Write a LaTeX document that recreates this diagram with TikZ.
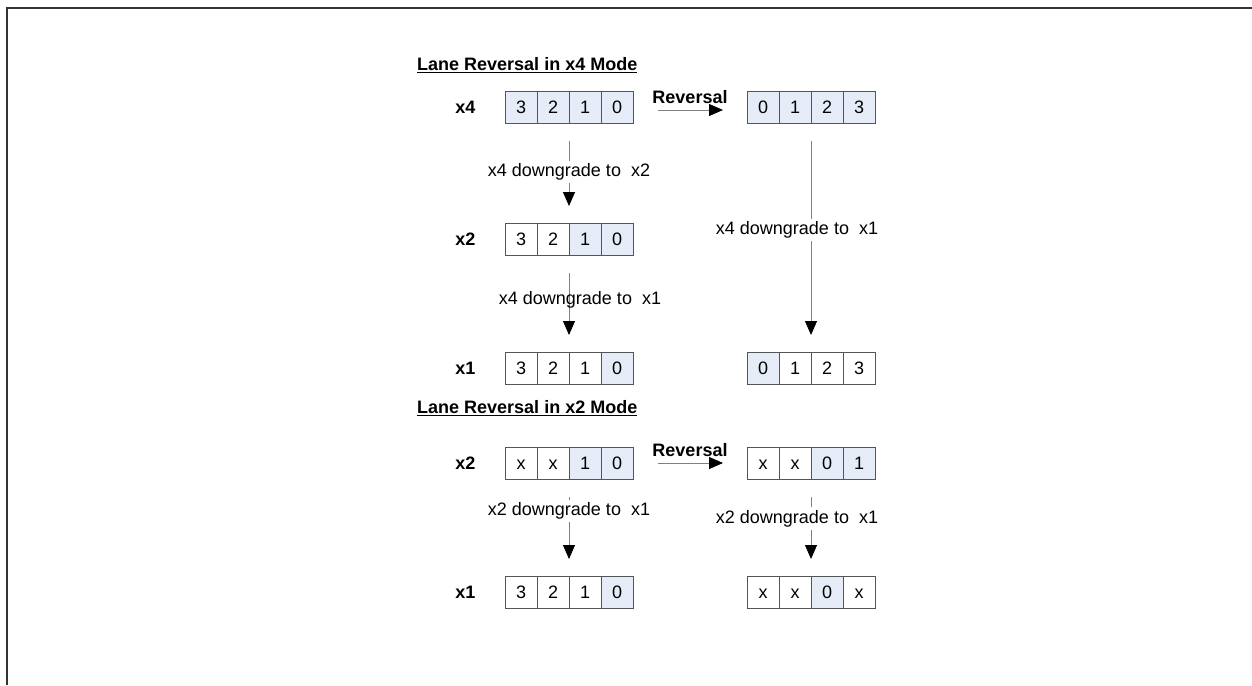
\documentclass[tikz,border=0pt]{standalone}
\usepackage{fontspec}
\setmainfont{Liberation Sans}
\usetikzlibrary{arrows.meta, positioning}

\definecolor{lanefill}{RGB}{230,236,247}
\definecolor{laneedge}{RGB}{85,85,85}

% one row of four lanes, #2/#3 = centre of the first cell
\newcommand{\lanerow}[4]{%
  \foreach \v/\c [count=\i] in {#4}
    \node[cell, fill=\c] (#1-\i) at ({#2+(\i-1)*32}, #3) {\v};
}

\begin{document}
\begin{tikzpicture}[x=1pt, y=-1pt, node distance=26pt,
  cell/.style={draw=laneedge, line width=0.8pt, minimum width=32pt,
               minimum height=32pt, inner sep=0pt, outer sep=0pt,
               text height=13pt, text depth=0pt,
               font=\fontsize{18}{20}\selectfont},
  widthlbl/.style={font=\bfseries\fontsize{18}{20}\selectfont},
  lanetitle/.style={anchor=west, inner sep=0pt,
                    font=\bfseries\fontsize{18}{20}\selectfont},
  downarrow/.style={draw=gray, line width=0.8pt,
                    -{Triangle[length=14pt, width=12pt, color=black]},
                    shorten <=18pt, shorten >=17pt},
  revarrow/.style={draw=gray, line width=0.8pt,
                   -{Triangle[length=14pt, width=12pt, color=black]},
                   shorten <=25pt, shorten >=24pt},
  downnote/.style={fill=white, inner sep=3pt,
                   font=\fontsize{18}{20}\selectfont},
  revnote/.style={above=3pt, font=\bfseries\fontsize{18}{20}\selectfont}]

  \useasboundingbox (0,0) rectangle (1252,685);
  \draw[line width=1.5pt, black!80] (7,685) -- (7,8) -- (1252,8);

  % x4 mode
  \node[lanetitle] (t4) at (417,65) {\underline{Lane Reversal in x4 Mode}};

  \lanerow{x4l}{521}{107}{3/lanefill, 2/lanefill, 1/lanefill, 0/lanefill}
  \lanerow{x4r}{763}{107}{0/lanefill, 1/lanefill, 2/lanefill, 3/lanefill}
  \lanerow{x2l}{521}{239}{3/white, 2/white, 1/lanefill, 0/lanefill}
  \lanerow{x1l}{521}{368}{3/white, 2/white, 1/white, 0/lanefill}
  \lanerow{x1r}{763}{368}{0/lanefill, 1/white, 2/white, 3/white}

  \node[widthlbl, left=of x4l-1] (w4) {x4};
  \node[widthlbl, left=of x2l-1] (w2) {x2};
  \node[widthlbl, left=of x1l-1] (w1) {x1};

  \draw[revarrow] ([yshift=-3pt]x4l-4.east) -- ([yshift=-3pt]x4r-1.west)
    node[midway, revnote] {Reversal};
  \draw[downarrow] (x4l-2.south east) -- (x2l-2.north east)
    node[downnote, pos=0.49] {x4 downgrade to\ \ x2};
  \draw[downarrow] (x2l-2.south east) -- (x1l-2.north east)
    node[downnote, fill=none, pos=0.46, xshift=11pt] {x4 downgrade to\ \ x1};
  \draw[downarrow] (x4r-2.south east) -- (x1r-2.north east)
    node[downnote, pos=0.467, xshift=-14pt] {x4 downgrade to\ \ x1};

  % x2 mode
  \node[lanetitle] (t2) at (417,408) {\underline{Lane Reversal in x2 Mode}};

  \lanerow{bx2l}{521}{463}{x/white, x/white, 1/lanefill, 0/lanefill}
  \lanerow{bx2r}{763}{463}{x/white, x/white, 0/lanefill, 1/lanefill}
  \lanerow{bx1l}{521}{592}{3/white, 2/white, 1/white, 0/lanefill}
  \lanerow{bx1r}{763}{592}{x/white, x/white, 0/lanefill, x/white}

  \node[widthlbl, left=of bx2l-1] (bw2) {x2};
  \node[widthlbl, left=of bx1l-1] (bw1) {x1};

  \draw[revarrow] (bx2l-4.east) -- (bx2r-1.west)
    node[midway, revnote] {Reversal};
  \draw[downarrow] (bx2l-2.south east) -- (bx1l-2.north east)
    node[downnote, pos=0.33] {x2 downgrade to\ \ x1};
  \draw[downarrow] (bx2r-2.south east) -- (bx1r-2.north east)
    node[downnote, pos=0.41, xshift=-14pt] {x2 downgrade to\ \ x1};
\end{tikzpicture}
\end{document}
